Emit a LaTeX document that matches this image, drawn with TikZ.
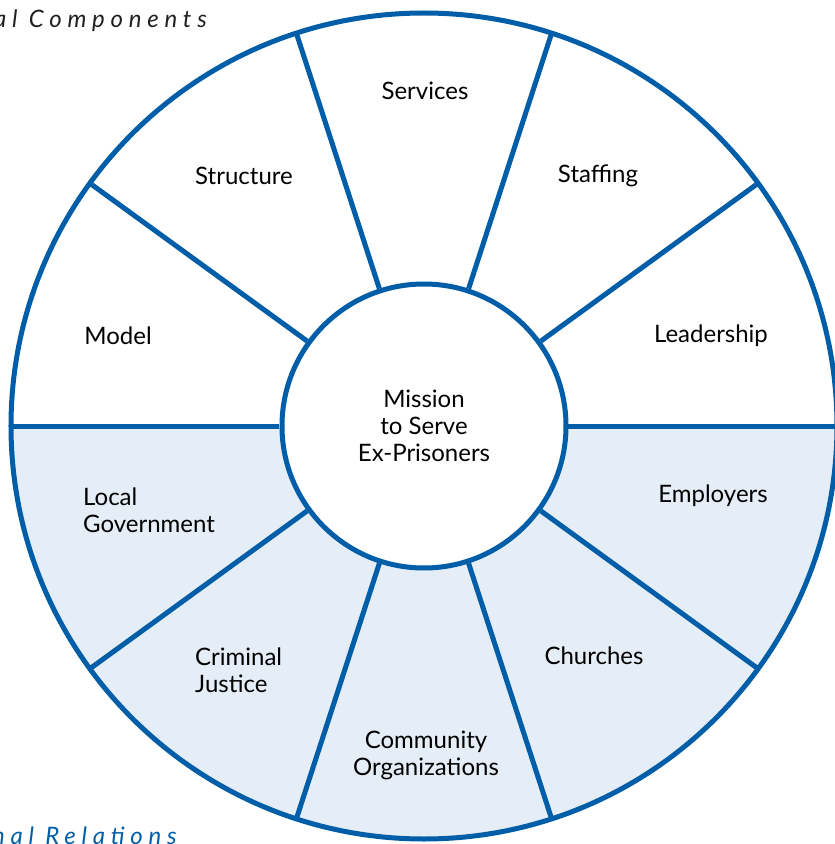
\documentclass[tikz,border=0pt]{standalone}
\usepackage{fontspec}
\setmainfont{Lato}
\usetikzlibrary{positioning}
\definecolor{wheelblue}{RGB}{0,94,168}
\definecolor{relfill}{RGB}{229,237,247}
\definecolor{captiongray}{RGB}{35,31,32}

\begin{document}
\begin{tikzpicture}[x=1pt,y=1pt,
	rim/.style={draw=wheelblue, line width=5pt},
	spoke/.style={wheelblue, line width=5pt},
	part/.style={font=\fontsize{24}{27}\selectfont, text=black, align=center, inner sep=0pt},
	caption/.style={font=\fontsize{24}{27}\selectfont\itshape\addfontfeatures{LetterSpace=24}, inner sep=0pt, anchor=base west}]
	
	\useasboundingbox (-424,-418) rectangle (411,426);
	\clip (-424,-418) rectangle (411,426);
	
	%--- lower half: external relations ---
	\fill[relfill] (180:413) arc[start angle=180, end angle=360, radius=413] -- cycle;
	
	%--- hub and spokes ---
	\node[circle, rim, fill=white, minimum size=284pt, part] (hub) at (0,0)
	{Mission\\to Serve\\Ex-Prisoners};
	\foreach \a in {0,36,...,324}
	\draw[spoke] (hub.\a) -- (\a:413);
	\draw[rim] (0,0) circle[radius=413];
	
	%--- upper segments ---
	\node[part] (services) at (1,335) {Services};
	\node[part] (staffing) at (174,250) {Staffing};
	\node[part] (structure) at (-180,250) {Structure};
	\node[part] (model) at (-306,90) {Model};
	\node[part] (leadership) at (287,90) {Leadership};
	
	%--- lower segments ---
	\node[part, align=left, anchor=west] (localgov) at (-341,-84) {Local\\Government};
	\node[part] (employers) at (289,-70) {Employers};
	\node[part, align=left, anchor=west] (justice) at (-229,-244) {Criminal\\Justice};
	\node[part] (churches) at (170,-230) {Churches};
	\node[part] (community) at (2,-329) {Community\\Organizations};
	
	%--- section captions ---
	\node[caption, text=captiongray] (orgcap) at (-430,398) {al Components};
	\node[caption, text=wheelblue] (relcap) at (-432,-418) {nal Relations};
\end{tikzpicture}
\end{document}
